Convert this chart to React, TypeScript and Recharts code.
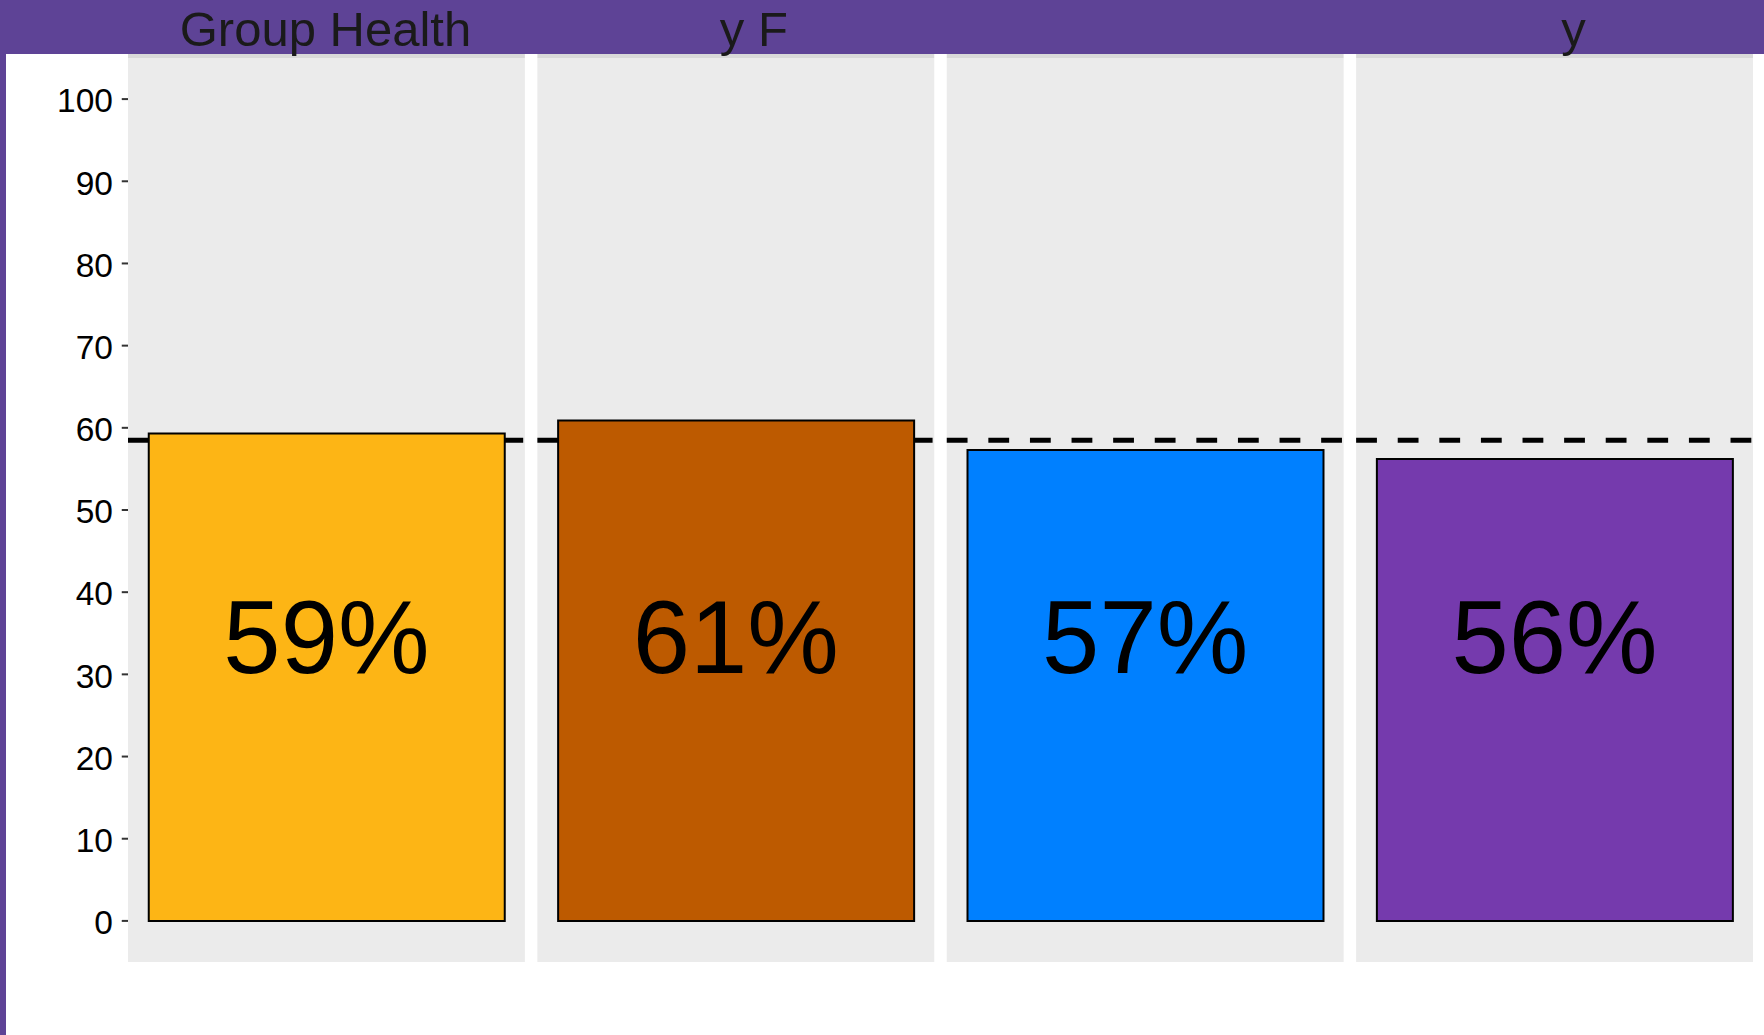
import React from "react";
import {
  ComposedChart,
  Bar,
  Cell,
  XAxis,
  YAxis,
  ReferenceArea,
  Scatter,
} from "recharts";

// ---- data ----
const PANEL_IDS = ["p1", "p2", "p3", "p4"];
const STRIP_LABELS = ["Group Health", "y F", "", "y"];
const VALUES = [59.3, 60.9, 57.3, 56.2];
const BAR_LABELS = ["59%", "61%", "57%", "56%"];
const BAR_COLORS = ["#FDB515", "#BD5A00", "#0080FF", "#753AAD"];
const REF_VALUE = 58.5;
const LABEL_Y = 34.7;
const Y_TICKS = [0, 10, 20, 30, 40, 50, 60, 70, 80, 90, 100];
const Y_DOMAIN: [number, number] = [-5, 105];

// style constants (not data)
const STRIP_LABEL_DX = [-1, 18, 0, 19];
const FONT = "'Liberation Sans', Arial, Helvetica, sans-serif";
const PURPLE = "#5E4396";
const INSET = 6.25;

const tableData = PANEL_IDS.map((id, i) => ({
  id,
  value: VALUES[i],
  label: BAR_LABELS[i],
  labelY: LABEL_Y,
}));

const makePanelShape = (idx: number) => (p: any) => (
  <g>
    <rect
      x={p.x + INSET}
      y={p.y - 4}
      width={p.width - 2 * INSET}
      height={4}
      fill="#D9D9D9"
    />
    <rect
      x={p.x + INSET}
      y={p.y}
      width={p.width - 2 * INSET}
      height={p.height}
      fill="#EBEBEB"
    />
    {STRIP_LABELS[idx] ? (
      <text
        x={p.x + p.width / 2 + STRIP_LABEL_DX[idx]}
        y={p.y - 12.3}
        textAnchor="middle"
        fontSize={49}
        fontFamily={FONT}
        fill="#1A1A1A"
      >
        {STRIP_LABELS[idx]}
      </text>
    ) : null}
  </g>
);

const DashShape = (p: any) => (
  <line
    x1={p.x + INSET}
    x2={p.x + p.width - INSET}
    y1={p.y}
    y2={p.y}
    stroke="#000"
    strokeWidth={5}
    strokeDasharray="20.8 20.8"
  />
);

const YTick = (p: any) => (
  <g>
    <line
      x1={p.x}
      x2={p.x + INSET}
      y1={p.y}
      y2={p.y}
      stroke="#333333"
      strokeWidth={2}
    />
    <text
      x={p.x - 8.75}
      y={p.y + 13.3}
      textAnchor="end"
      fontSize={33.5}
      fontFamily={FONT}
      fill="#000"
    >
      {p.payload.value}
    </text>
  </g>
);

const LabelShape = (p: any) => (
  <text
    x={p.cx}
    y={p.cy + 0.358 * 103}
    textAnchor="middle"
    fontSize={103}
    fontFamily={FONT}
    fill="#000"
  >
    {p.payload.label}
  </text>
);

export default function App() {
  return (
    <div
      style={{
        position: "absolute",
        left: 0,
        top: 0,
        width: 1764,
        height: 1035,
        background: "#fff",
        overflow: "hidden",
      }}
    >
      <div
        style={{
          position: "absolute",
          left: 0,
          top: 0,
          width: 1764,
          height: 54,
          background: PURPLE,
        }}
      />
      <div
        style={{
          position: "absolute",
          left: 0,
          top: 0,
          width: 5.5,
          height: 1035,
          background: PURPLE,
        }}
      />
      <div style={{ position: "absolute", left: 0, top: 0 }}>
        <ComposedChart
          width={1764}
          height={1035}
          data={tableData}
          margin={{ top: 58, right: 4.75, bottom: 73, left: 0 }}
        >
          <XAxis dataKey="id" type="category" hide />
          <YAxis
            type="number"
            domain={Y_DOMAIN}
            ticks={Y_TICKS}
            width={121.75}
            axisLine={false}
            tickLine={false}
            tickSize={0}
            tickMargin={0}
            interval={0}
            tick={YTick}
          />
          {PANEL_IDS.map((id, i) => (
            <ReferenceArea
              key={"panel-" + id}
              x1={id}
              x2={id}
              ifOverflow="visible"
              shape={makePanelShape(i)}
              zIndex={-90}
            />
          ))}
          {PANEL_IDS.map((id) => (
            <ReferenceArea
              key={"ref-" + id}
              x1={id}
              x2={id}
              y1={REF_VALUE}
              y2={REF_VALUE}
              ifOverflow="visible"
              shape={DashShape}
              zIndex={-80}
            />
          ))}
          <Bar
            dataKey="value"
            barSize={356}
            stroke="#000"
            strokeWidth={2}
            isAnimationActive={false}
          >
            {tableData.map((d, i) => (
              <Cell key={d.id} fill={BAR_COLORS[i]} />
            ))}
          </Bar>
          <Scatter
            dataKey="labelY"
            shape={LabelShape}
            isAnimationActive={false}
          />
        </ComposedChart>
      </div>
    </div>
  );
}
